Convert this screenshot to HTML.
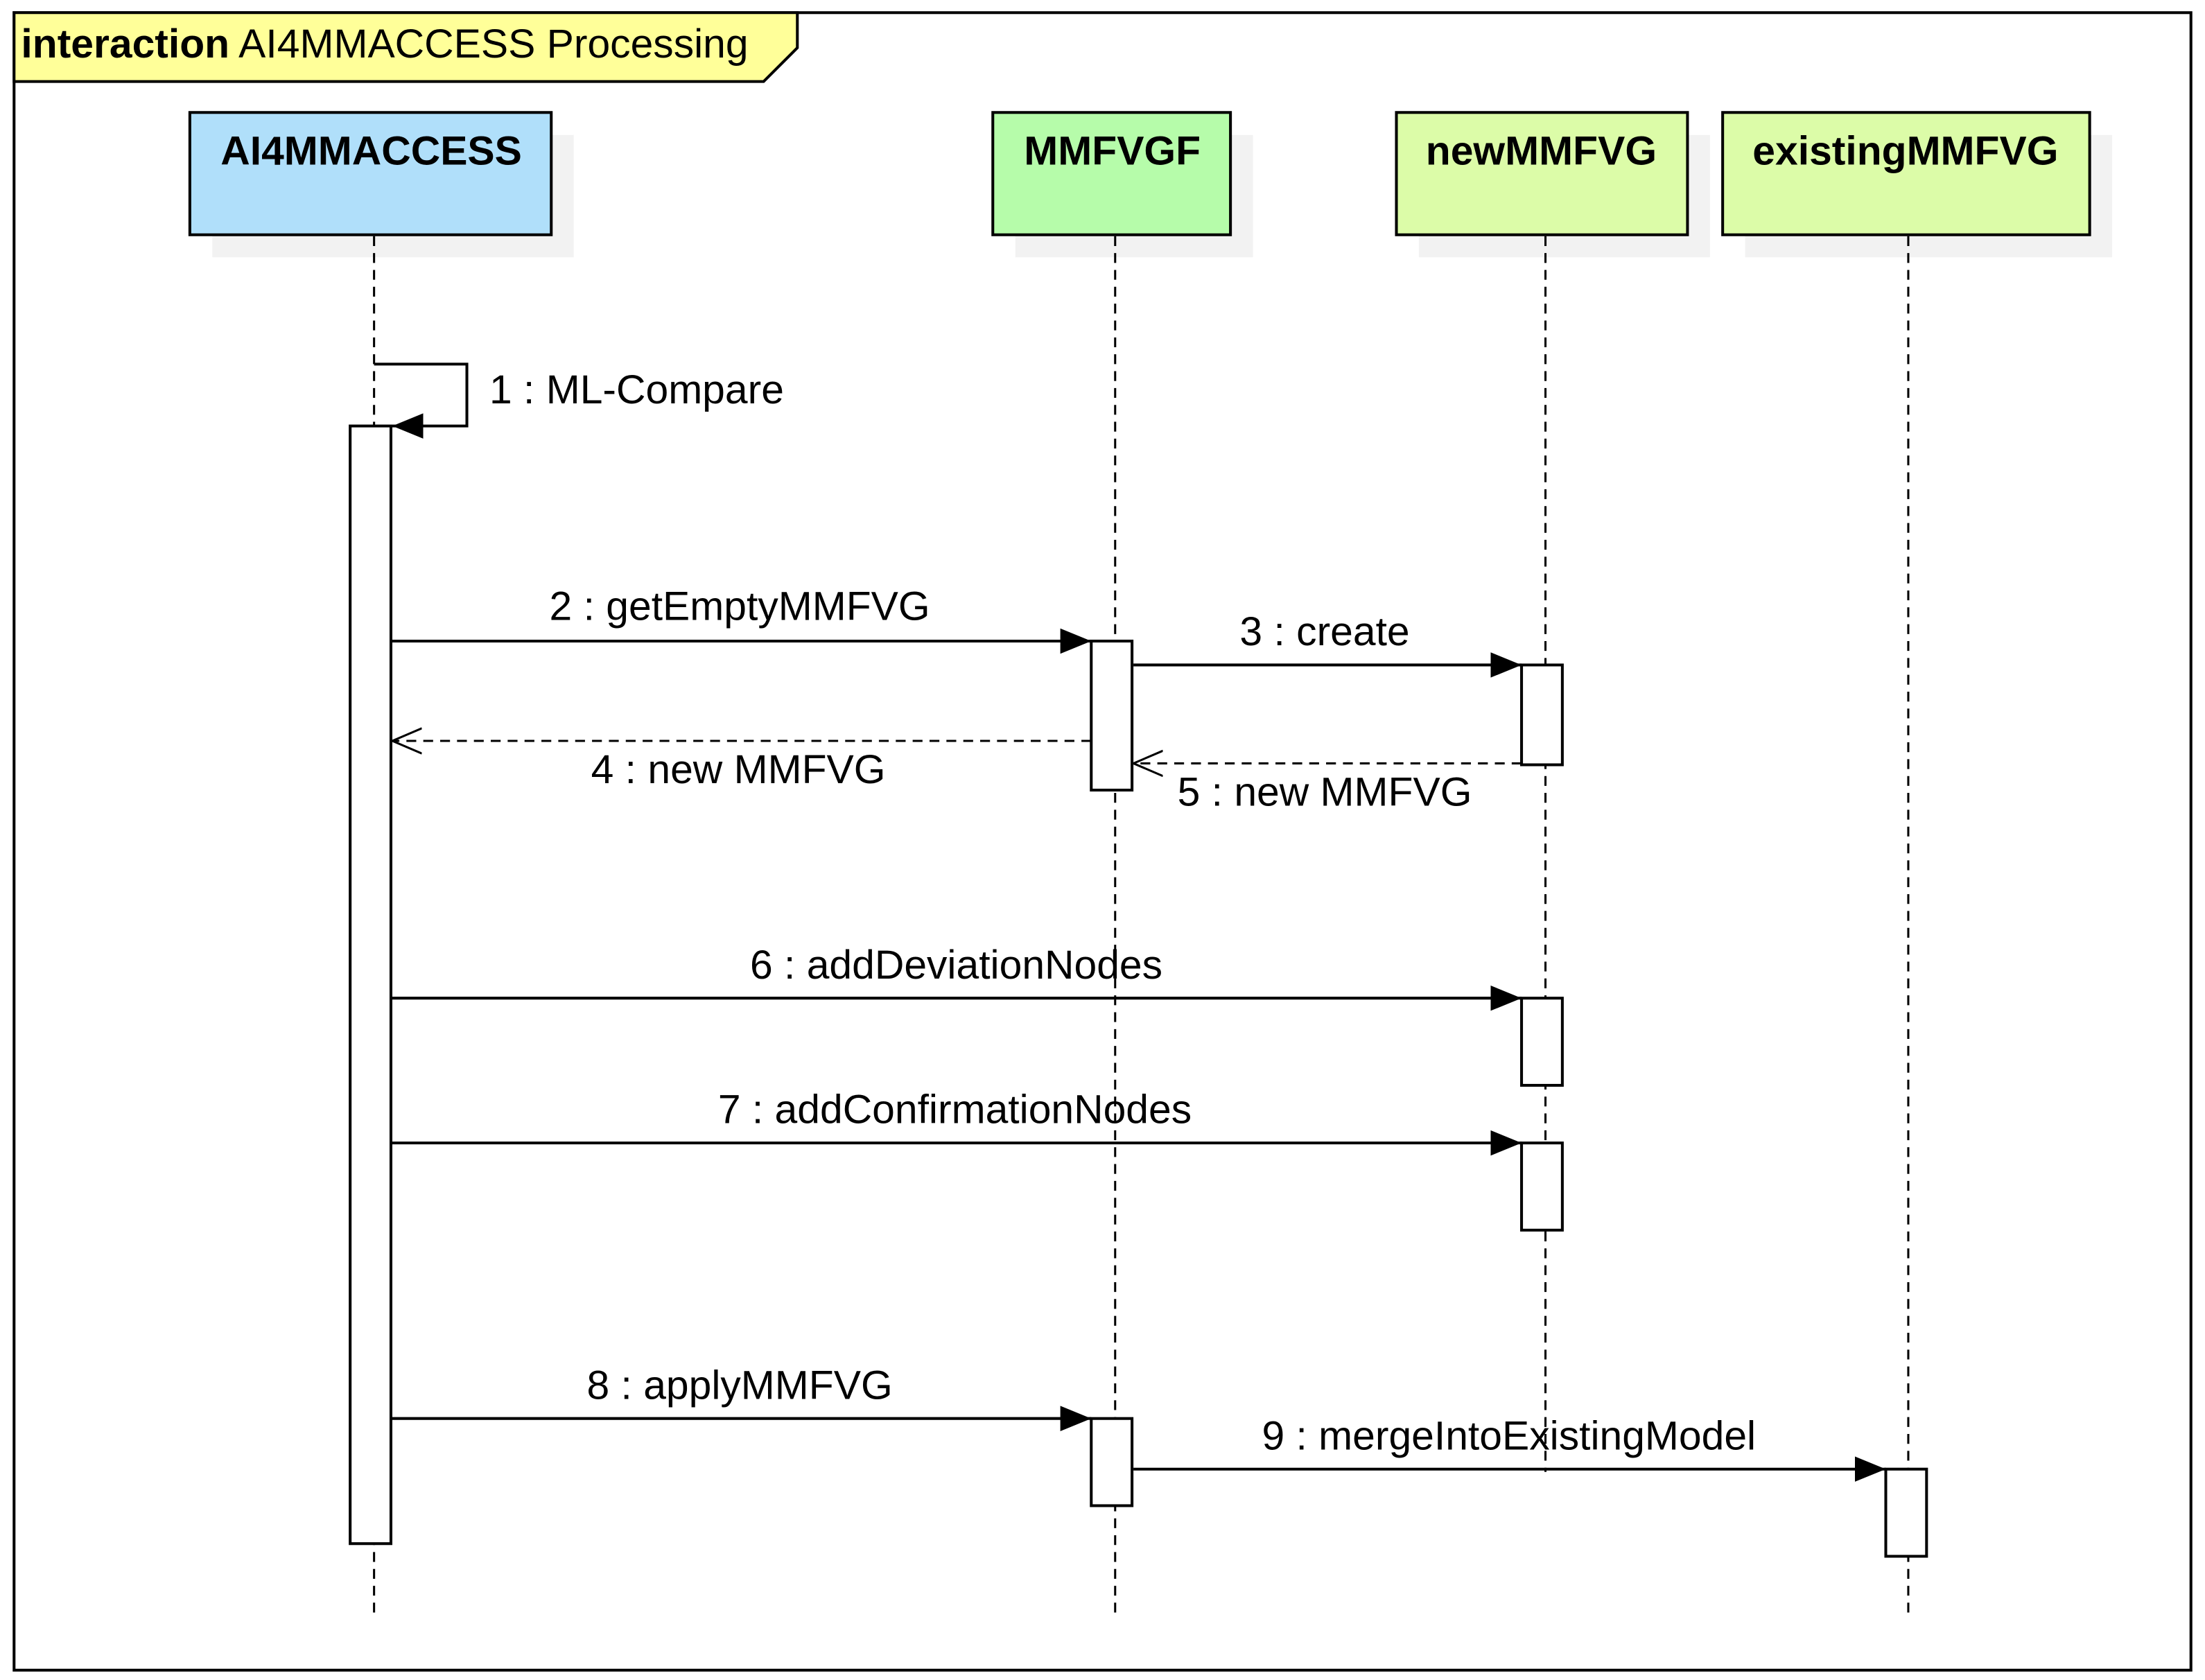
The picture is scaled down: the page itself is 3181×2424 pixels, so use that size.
<!DOCTYPE html>
<html><head><meta charset="utf-8"><style>
html,body{margin:0;padding:0;background:#fff;width:3181px;height:2424px;overflow:hidden}
svg{display:block}
text{font-family:"Liberation Sans",sans-serif;fill:#000}
</style></head><body>
<svg width="3181" height="2424" viewBox="0 0 1568 1195" preserveAspectRatio="none" xmlns="http://www.w3.org/2000/svg">
<defs>
<marker id="f" markerWidth="24" markerHeight="20" refX="22" refY="9" orient="auto" markerUnits="userSpaceOnUse"><path d="M0,0 L22,9 L0,18 Z" fill="#000"/></marker>
<marker id="o" markerWidth="26" markerHeight="22" refX="21" refY="10" orient="auto" markerUnits="userSpaceOnUse"><path d="M0,1 L21,10 L0,19" fill="none" stroke="#000" stroke-width="1.5"/></marker>
</defs>
<rect x="10" y="9" width="1548" height="1179" fill="#fff" stroke="#000" stroke-width="2"/>
<path d="M10,9 L567,9 L567,34 L543,58 L10,58 Z" fill="#ffff99" stroke="#000" stroke-width="2"/>
<text x="15" y="41" font-size="29"><tspan font-weight="bold">interaction</tspan> AI4MMACCESS Processing</text>

<rect x="151" y="96" width="257" height="87" fill="#f2f2f2"/>
<rect x="722" y="96" width="169" height="87" fill="#f2f2f2"/>
<rect x="1009" y="96" width="207" height="87" fill="#f2f2f2"/>
<rect x="1241" y="96" width="261" height="87" fill="#f2f2f2"/>
<rect x="135" y="80" width="257" height="87" fill="#b0dffa" stroke="#000" stroke-width="2"/>
<rect x="706" y="80" width="169" height="87" fill="#b6fcaa" stroke="#000" stroke-width="2"/>
<rect x="993" y="80" width="207" height="87" fill="#dcfca8" stroke="#000" stroke-width="2"/>
<rect x="1225" y="80" width="261" height="87" fill="#dcfca8" stroke="#000" stroke-width="2"/>
<g font-size="29" font-weight="bold" text-anchor="middle">
<text x="264" y="117">AI4MMACCESS</text>
<text x="791" y="117">MMFVGF</text>
<text x="1096" y="117">newMMFVG</text>
<text x="1355" y="117">existingMMFVG</text>
</g>
<g stroke="#000" stroke-width="1.5" stroke-dasharray="7,5" fill="none">
<line x1="266" y1="168" x2="266" y2="1152"/>
<line x1="793" y1="168" x2="793" y2="1152"/>
<line x1="1099" y1="168" x2="1099" y2="1047"/>
<line x1="1357" y1="168" x2="1357" y2="1152"/>
</g>
<g fill="#fff" stroke="#000" stroke-width="2">
<rect x="249" y="303" width="29" height="795"/>
<rect x="776" y="456" width="29" height="106"/>
<rect x="1082" y="473" width="29" height="71"/>
<rect x="1082" y="710" width="29" height="62"/>
<rect x="1082" y="813" width="29" height="62"/>
<rect x="776" y="1009" width="29" height="62"/>
<rect x="1341" y="1045" width="29" height="62"/>
</g>
<g stroke="#000" stroke-width="2" fill="none">
<path d="M266,259 L332,259 L332,303 L279,303" marker-end="url(#f)"/>
<line x1="279" y1="456" x2="776" y2="456" marker-end="url(#f)"/>
<line x1="806" y1="473" x2="1082" y2="473" marker-end="url(#f)"/>
<line x1="279" y1="710" x2="1082" y2="710" marker-end="url(#f)"/>
<line x1="279" y1="813" x2="1082" y2="813" marker-end="url(#f)"/>
<line x1="279" y1="1009" x2="776" y2="1009" marker-end="url(#f)"/>
<line x1="806" y1="1045" x2="1341" y2="1045" marker-end="url(#f)"/>
</g>
<g stroke="#000" stroke-width="1.5" fill="none" stroke-dasharray="7,5">
<line x1="776" y1="527" x2="279" y2="527" marker-end="url(#o)"/>
<line x1="1082" y1="543" x2="806" y2="543" marker-end="url(#o)"/>
</g>
<g font-size="29">
<text x="348" y="287">1 : ML-Compare</text>
<g text-anchor="middle">
<text x="526" y="441">2 : getEmptyMMFVG</text>
<text x="942" y="459">3 : create</text>
<text x="525" y="557">4 : new MMFVG</text>
<text x="942" y="573">5 : new MMFVG</text>
<text x="680" y="696">6 : addDeviationNodes</text>
<text x="679" y="799">7 : addConfirmationNodes</text>
<text x="526" y="995">8 : applyMMFVG</text>
<text x="1073" y="1031">9 : mergeIntoExistingModel</text>
</g>
</g>
</svg>
</body></html>
